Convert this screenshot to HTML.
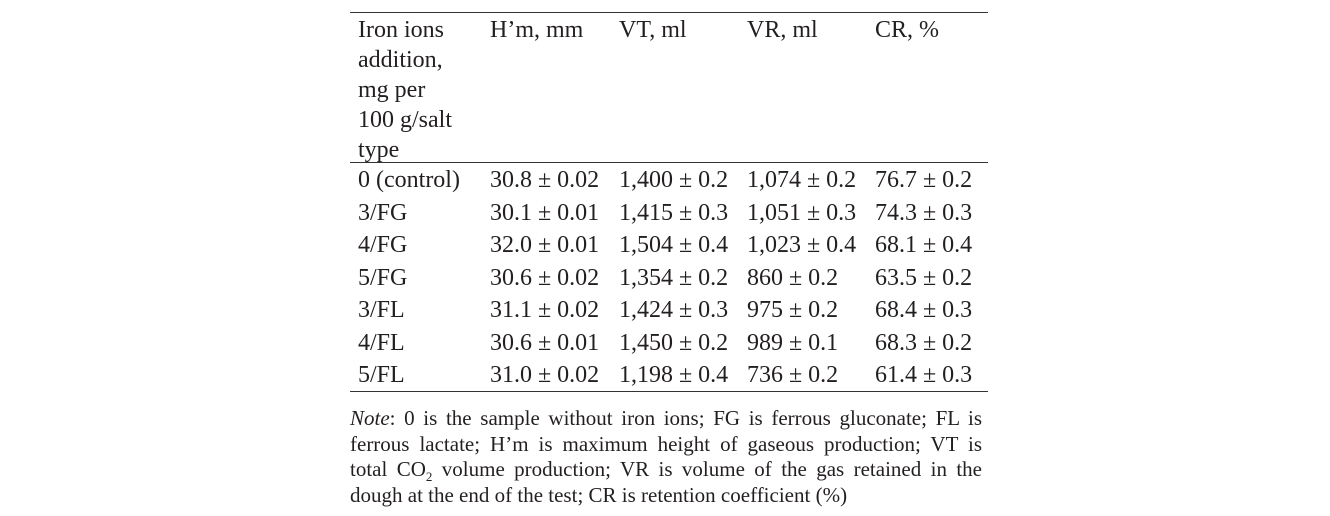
<!DOCTYPE html>
<html><head><meta charset="utf-8"><style>
body{margin:0;width:1330px;height:516px;background:#fff;position:relative;font-family:"Liberation Serif",serif;color:#231f20;overflow:hidden}
.l{position:absolute;left:350px;width:638px;height:1px;background:#333}
.c{position:absolute;font-size:24px;line-height:30px;white-space:nowrap}
.nl{position:absolute;left:350px;width:632px;font-size:21px;line-height:25.6px;white-space:nowrap;text-align:justify;text-align-last:justify}
sub{font-size:13px;line-height:0}
</style></head><body>
<div class="l" style="top:12px"></div>
<div class="l" style="top:162px"></div>
<div class="l" style="top:391px"></div>
<div class="c" style="left:358px;top:15px">Iron ions<br>addition,<br>mg per<br>100 g/salt<br>type</div>
<div class="c" style="left:490px;top:15px">H’m, mm</div>
<div class="c" style="left:619px;top:15px">VT, ml</div>
<div class="c" style="left:747px;top:15px">VR, ml</div>
<div class="c" style="left:875px;top:15px">CR, %</div>
<div id="rows"></div>
<div>
<div class="nl" style="top:406px"><i>Note</i>: 0 is the sample without iron ions; FG is ferrous gluconate; FL is</div>
<div class="nl" style="top:431.5px">ferrous lactate; H’m is maximum height of gaseous production; VT is</div>
<div class="nl" style="top:457px">total CO<sub>2</sub> volume production; VR is volume of the gas retained in the</div>
<div class="nl" style="top:482.5px;text-align-last:left">dough at the end of the test; CR is retention coefficient (%)</div>
</div>
<script>
const labels=["0 (control)","3/FG","4/FG","5/FG","3/FL","4/FL","5/FL"];
const hm=["30.8 ± 0.02","30.1 ± 0.01","32.0 ± 0.01","30.6 ± 0.02","31.1 ± 0.02","30.6 ± 0.01","31.0 ± 0.02"];
const vt=["1,400 ± 0.2","1,415 ± 0.3","1,504 ± 0.4","1,354 ± 0.2","1,424 ± 0.3","1,450 ± 0.2","1,198 ± 0.4"];
const vr=["1,074 ± 0.2","1,051 ± 0.3","1,023 ± 0.4","860 ± 0.2","975 ± 0.2","989 ± 0.1","736 ± 0.2"];
const cr=["76.7 ± 0.2","74.3 ± 0.3","68.1 ± 0.4","63.5 ± 0.2","68.4 ± 0.3","68.3 ± 0.2","61.4 ± 0.3"];
const cols=[[labels,358,'row-label'],[hm,490,'cell-hm'],[vt,619,'cell-vt'],[vr,747,'cell-vr'],[cr,875,'cell-cr']];
const root=document.getElementById('rows');
labels.forEach((_,i)=>{
  cols.forEach(([arr,x,nm])=>{
    const d=document.createElement('div');
    d.className='c';
    
    
    d.style.left=x+'px';
    d.style.top=(165+i*32.5)+'px';
    d.textContent=arr[i];
    root.appendChild(d);
  });
});
</script>
</body></html>
